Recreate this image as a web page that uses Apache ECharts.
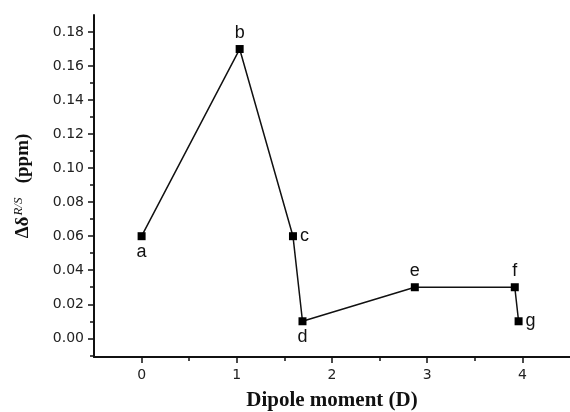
<!DOCTYPE html>
<html><head><meta charset="utf-8">
<script src="https://cdn.jsdelivr.net/npm/echarts@6/dist/echarts.min.js"></script>
<style>html,body{margin:0;padding:0;background:#fff}#c{width:570px;height:412px}</style>
</head><body><div id="c"></div>
<script>
const pointLabels = ['a','b','c','d','e','f','g'];
const dipole = [0, 1.03, 1.59, 1.69, 2.87, 3.92, 3.96];
const deltaShift = [0.06, 0.17, 0.06, 0.01, 0.03, 0.03, 0.01];
const labelPos = ['bottom','top','right','bottom','top','top','right'];
const xTicks = [0, 1, 2, 3, 4];
const xMinorTicks = [0.5, 1.5, 2.5, 3.5];
const yTicks = [0, 0.02, 0.04, 0.06, 0.08, 0.10, 0.12, 0.14, 0.16, 0.18];
const yMinorTicks = [-0.01, 0.01, 0.03, 0.05, 0.07, 0.09, 0.11, 0.13, 0.15, 0.17];

const chart = echarts.init(document.getElementById('c'));
const font = 'DejaVu Sans, Arial';
const serif = 'Liberation Serif, Times New Roman';
const data = dipole.map((x,i)=>({
  value:[x, deltaShift[i]],
  label:{show:true, formatter:pointLabels[i], position:labelPos[i], distance:3,
    fontFamily:'Liberation Sans, Arial', fontSize:18, color:'#111'}
}));
chart.setOption({
  animation:false,
  backgroundColor:'#fff',
  grid:{left:94, top:15, right:0, bottom:55, containLabel:false, outerBoundsMode:'none'},
  xAxis:[{
    type:'value', min:-0.5, max:4.5,
    name:'Dipole moment (D)', nameLocation:'center', nameGap:33,
    nameTextStyle:{fontFamily:serif, fontWeight:'bold', fontSize:21, color:'#111'},
    axisLine:{show:true, onZero:false, lineStyle:{color:'#111', width:2}},
    axisTick:{show:true, length:6, lineStyle:{color:'#111', width:1.5}, customValues:xTicks},
    splitLine:{show:false},
    axisLabel:{fontFamily:font, fontSize:14, color:'#222', margin:11, customValues:xTicks,
      formatter:v=>String(Math.round(v))}
  },{
    type:'value', min:-0.5, max:4.5, position:'bottom',
    axisLine:{show:false, onZero:false},
    axisTick:{show:true, length:4, lineStyle:{color:'#111', width:1.5}, customValues:xMinorTicks},
    axisLabel:{show:false}, splitLine:{show:false}
  }],
  yAxis:[{
    type:'value', min:-0.011, max:0.19,
    name:'{g|Δδ}{s|R/S}{g|   (ppm)}', nameLocation:'center', nameGap:59, nameRotate:90,
    nameTextStyle:{rich:{
      g:{fontFamily:serif, fontWeight:'bold', fontSize:19, color:'#111'},
      s:{fontFamily:serif, fontStyle:'italic', fontSize:13, color:'#111', padding:[0,0,10,1]}
    }},
    axisLine:{show:true, onZero:false, lineStyle:{color:'#111', width:2}},
    axisTick:{show:true, length:6, lineStyle:{color:'#111', width:1.5}, customValues:yTicks},
    splitLine:{show:false},
    axisLabel:{fontFamily:font, fontSize:14, color:'#222', margin:10, customValues:yTicks,
      formatter:v=>v.toFixed(2)}
  },{
    type:'value', min:-0.011, max:0.19, position:'left',
    axisLine:{show:false, onZero:false},
    axisTick:{show:true, length:4, lineStyle:{color:'#111', width:1.5}, customValues:yMinorTicks},
    axisLabel:{show:false}, splitLine:{show:false}
  }],
  series:[{
    type:'line', data:data, symbol:'rect', symbolSize:8, showSymbol:true,
    xAxisIndex:0, yAxisIndex:0,
    itemStyle:{color:'#000'}, lineStyle:{color:'#111', width:1.5}
  }]
});
</script></body></html>
